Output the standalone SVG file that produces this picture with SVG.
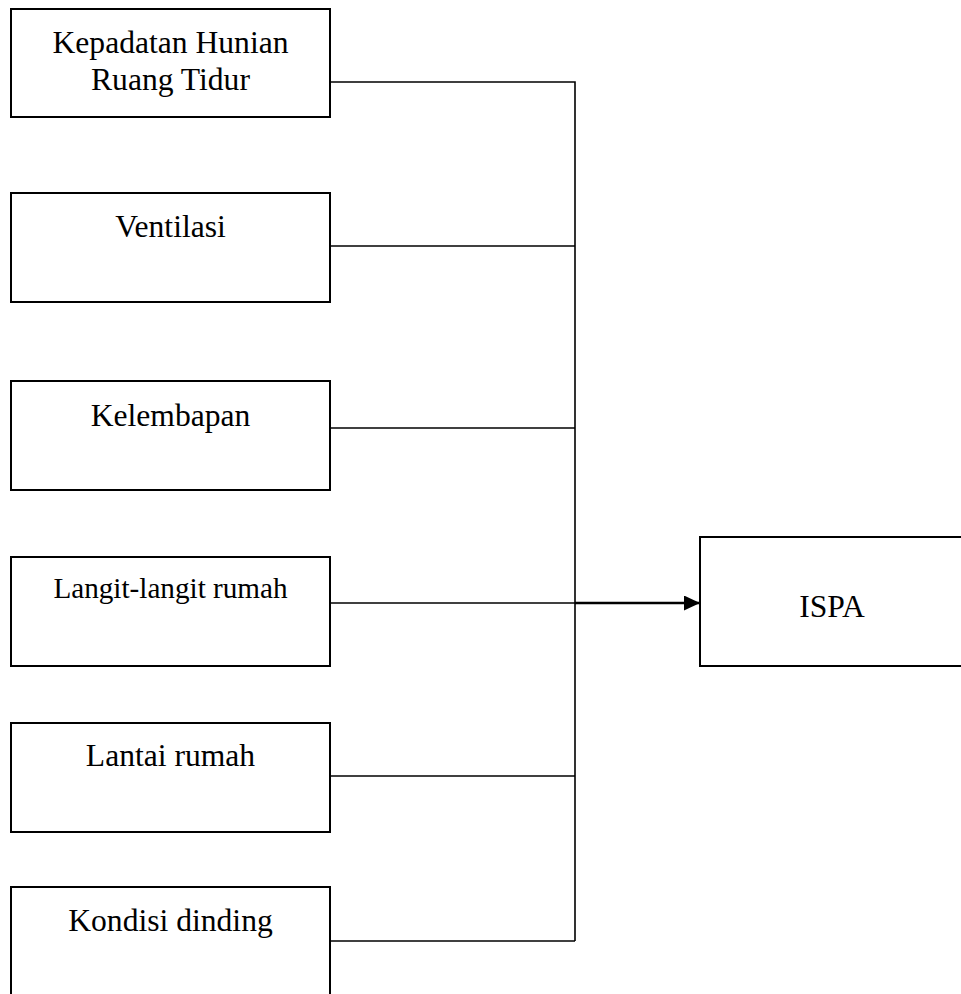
<svg xmlns="http://www.w3.org/2000/svg" width="961" height="994" viewBox="0 0 961 994">
<style>
.box{fill:#fff;stroke:#000;stroke-width:2}
.t{font-family:"Liberation Serif","Times New Roman",serif;font-size:31.6px;fill:#000;text-anchor:middle}
.s{font-size:29.2px}
.c{fill:none;stroke:#000;stroke-width:1.6}
.b{stroke-width:2.4}
</style>
<defs>
<marker id="ah" markerWidth="16" markerHeight="15" refX="16" refY="7.5" orient="auto" markerUnits="userSpaceOnUse">
<path d="M0,0 L16,7.5 L0,15 Z" fill="#000"/>
</marker>
</defs>
<rect width="961" height="994" fill="#fff"/>
<g id="n1"><rect class="box" x="11" y="9" width="319" height="108"/><text class="t" x="170.5" y="53">Kepadatan Hunian</text><text class="t" x="170.5" y="90">Ruang Tidur</text></g>
<g id="n2"><rect class="box" x="11" y="193" width="319" height="109"/><text class="t" x="170.5" y="237">Ventilasi</text></g>
<g id="n3"><rect class="box" x="11" y="381" width="319" height="109"/><text class="t" x="170.5" y="426">Kelembapan</text></g>
<g id="n4"><rect class="box" x="11" y="557" width="319" height="109"/><text class="t s" x="170.5" y="598">Langit-langit rumah</text></g>
<g id="n5"><rect class="box" x="11" y="723" width="319" height="109"/><text class="t" x="170.5" y="766">Lantai rumah</text></g>
<g id="n6"><rect class="box" x="11" y="887" width="319" height="120"/><text class="t" x="170.5" y="931">Kondisi dinding</text></g>
<g id="ispa"><rect class="box" x="700" y="537" width="270" height="129"/><text class="t" x="832" y="617">ISPA</text></g>
<g id="connectors">
<path class="c" d="M330,82 H575 V941"/>
<path class="c" d="M330,246 H575"/>
<path class="c" d="M330,428 H575"/>
<path class="c" d="M330,776 H575"/>
<path class="c" d="M330,941 H575"/>
<path class="c" d="M330,603 H575"/>
<path class="c b" d="M575,603 H700" marker-end="url(#ah)"/>
</g>
</svg>
